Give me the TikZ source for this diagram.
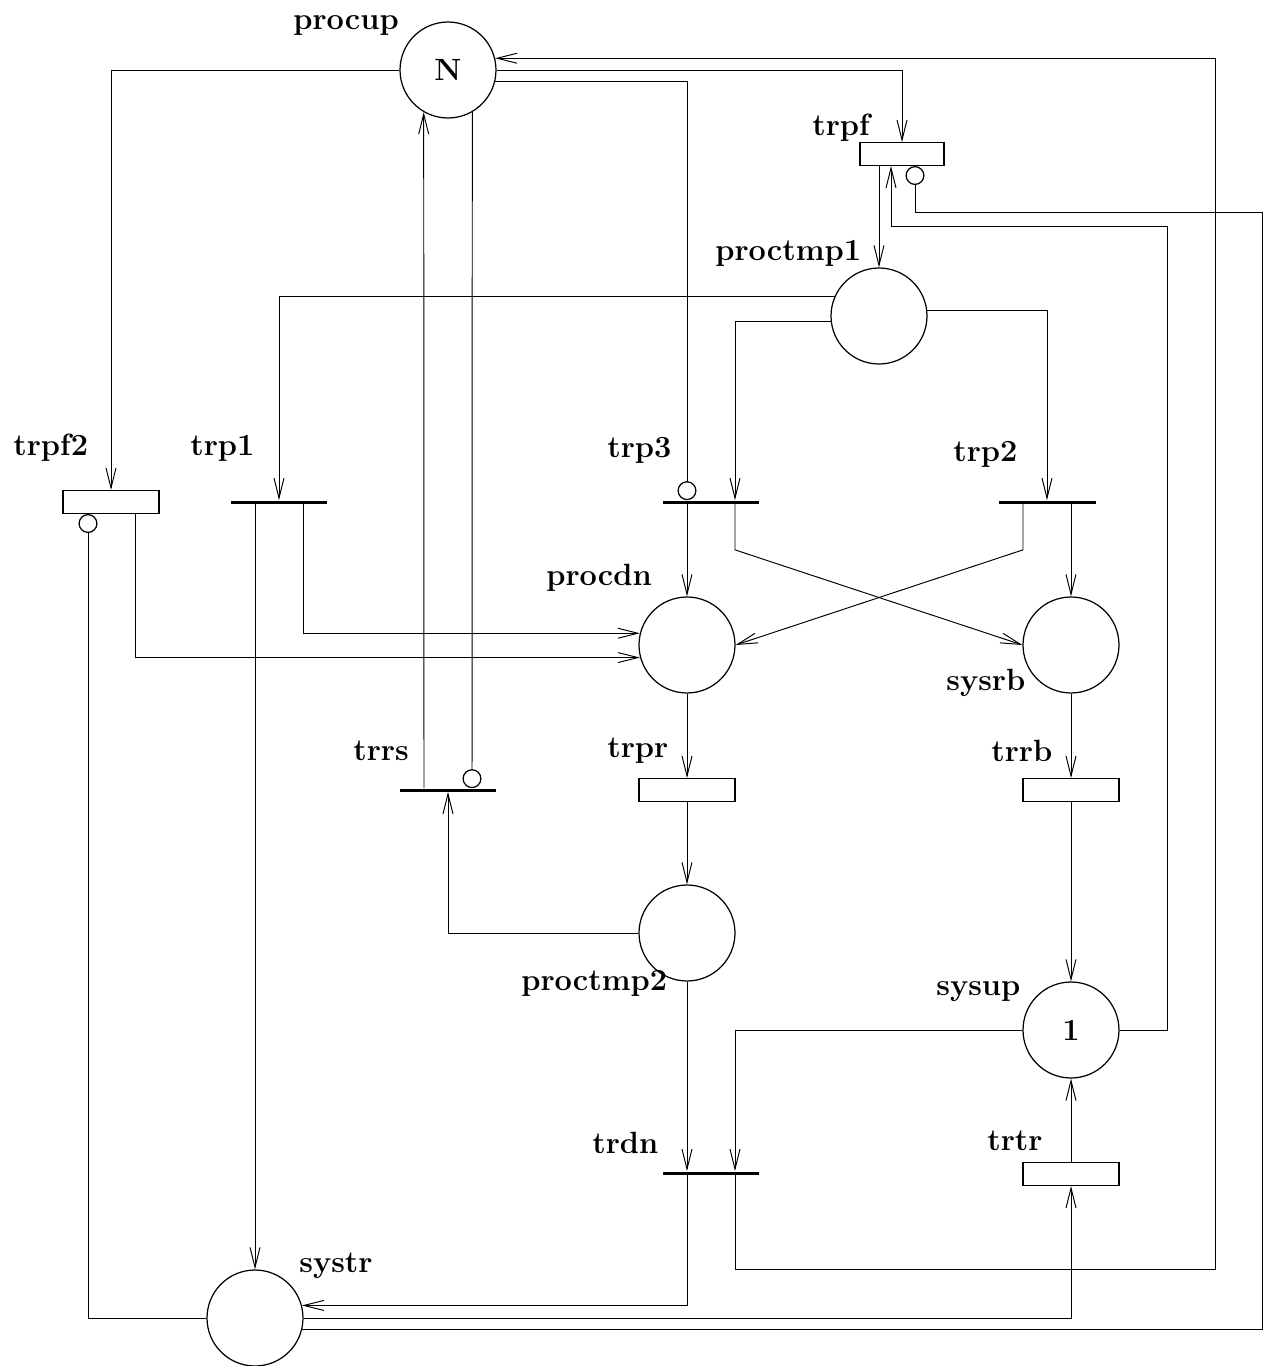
\documentclass[tikz,border=0pt]{standalone}
\usepackage{tikz}
\usetikzlibrary{
  arrows.meta,  % Straight Barb and Circle tips
  calc,         % offsets from node anchors
  positioning
}

\newcommand{\pnfont}{\fontsize{17.5}{20}\selectfont\bfseries}

\tikzset{
  place/.style={circle, draw, line width=0.7pt, minimum size=1.92cm, inner sep=0pt, font=\pnfont},
  trans/.style={rectangle, draw, line width=0.6pt, minimum width=1.92cm, minimum height=0.46cm, inner sep=0pt},
  bar/.style={rectangle, fill=black, minimum width=1.94cm, minimum height=0.06cm, inner sep=0pt},
  pnarc/.style={line width=0.55pt, -{Straight Barb[length=0.4cm, width=0.2cm]}},
  inhib/.style={line width=0.55pt, -{Circle[open, length=0.38cm, line width=0.7pt]}},
  lbl/.style={anchor=base west, inner sep=0pt, font=\pnfont}
}

\begin{document}
\begin{tikzpicture}[x=0.02cm, y=-0.02cm]
  \useasboundingbox (0,0) rectangle (1264,1366);

  % places
  \node[place] (procup)   at (448,70)    {N};
  \node[place] (proctmp1) at (879,316)   {};
  \node[place] (procdn)   at (687,645)   {};
  \node[place] (sysrb)    at (1071,645)  {};
  \node[place] (proctmp2) at (687,933)   {};
  \node[place] (sysup)    at (1071,1030) {1};
  \node[place] (systr)    at (255,1318)  {};

  % timed transitions
  \node[trans, minimum width=1.68cm] (trpf) at (902,154) {};
  \node[trans] (trpf2) at (111,502)  {};
  \node[trans] (trpr)  at (687,790)  {};
  \node[trans] (trrb)  at (1071,790) {};
  \node[trans] (trtr)  at (1071,1174) {};

  % immediate transitions
  \node[bar] (trp1) at (279,502)  {};
  \node[bar] (trp3) at (711,502)  {};
  \node[bar] (trp2) at (1047,502) {};
  \node[bar] (trrs) at (448,790)  {};
  \node[bar] (trdn) at (711,1173) {};

  % names
  \node[lbl] (l-procup)   at (293,29)   {procup};
  \node[lbl] (l-trpf)     at (812,135)  {trpf};
  \node[lbl] (l-proctmp1) at (715,260)  {proctmp1};
  \node[lbl] (l-trpf2)    at (13,455)   {trpf2};
  \node[lbl] (l-trp1)     at (190,455)  {trp1};
  \node[lbl] (l-trp3)     at (607,457)  {trp3};
  \node[lbl] (l-trp2)     at (953,461)  {trp2};
  \node[lbl] (l-procdn)   at (546,585)  {procdn};
  \node[lbl] (l-sysrb)    at (946,690)  {sysrb};
  \node[lbl] (l-trrs)     at (353,760)  {trrs};
  \node[lbl] (l-trpr)     at (607,757)  {trpr};
  \node[lbl] (l-trrb)     at (991,761)  {trrb};
  \node[lbl] (l-proctmp2) at (521,990)  {proctmp2};
  \node[lbl] (l-sysup)    at (936,995)  {sysup};
  \node[lbl] (l-trdn)     at (592,1153) {trdn};
  \node[lbl] (l-trtr)     at (987,1150) {trtr};
  \node[lbl] (l-systr)    at (299,1272) {systr};

  % arcs out of procup
  \draw[pnarc] (procup.east) -| (trpf.north);
  \draw[pnarc] (procup.west) -| (trpf2.north);
  \draw[inhib] (procup.-14.48) -| ($(trp3.north)+(-24,0)$);
  \draw[inhib] (procup.-60) -- ($(trrs.north)+(24,0)$);
  \draw[pnarc] ($(trrs.north)+(-24,0)$) -- (procup.-120);

  % proctmp1
  \draw[pnarc] (trpf.south -| proctmp1.north) -- (proctmp1.north);
  \draw[pnarc] (proctmp1.156.7) -| (trp1.north);
  \draw[pnarc] (proctmp1.187.2) -| ($(trp3.north)+(24,0)$);
  \draw[pnarc] (proctmp1.7.2) -| (trp2.north);

  % into trpf from below
  \draw[pnarc] (sysup.east) -| (1167,226) -| ($(trpf.south)+(-11,0)$);
  \draw[inhib] (systr.-14.48) -| (1262,212) -| ($(trpf.south)+(13,0)$);

  % trpf2
  \draw[inhib] (systr.west) -| ($(trpf2.south)+(-23,0)$);
  \draw[pnarc] ($(trpf2.south)+(24,0)$) |- (procdn.195.7);

  % trp1, trp3, trp2
  \draw[pnarc] ($(trp1.south)+(24,0)$) |- (procdn.166.8);
  \draw[pnarc] ($(trp1.south)+(-24,0)$) -- (systr.north);
  \draw[pnarc] ($(trp3.south)+(-24,0)$) -- (procdn.north);
  \draw[pnarc] ($(trp3.south)+(24,0)$) -- ++(0,46) -- (sysrb.west);
  \draw[pnarc] ($(trp2.south)+(-24,0)$) -- ++(0,46) -- (procdn.east);
  \draw[pnarc] ($(trp2.south)+(24,0)$) -- (sysrb.north);

  % middle column
  \draw[pnarc] (procdn.south) -- (trpr.north);
  \draw[pnarc] (trpr.south) -- (proctmp2.north);
  \draw[pnarc] (sysrb.south) -- (trrb.north);
  \draw[pnarc] (trrb.south) -- (sysup.north);
  \draw[pnarc] (proctmp2.west) -| (trrs.south);
  \draw[pnarc] (proctmp2.south) -- ($(trdn.north)+(-24,0)$);
  \draw[pnarc] (sysup.west) -| ($(trdn.north)+(24,0)$);

  % trdn and systr
  \draw[pnarc] ($(trdn.south)+(-24,0)$) |- (systr.15.7);
  \draw[pnarc] ($(trdn.south)+(24,0)$) |- (1215,1269) |- (procup.14.48);
  \draw[pnarc] (systr.east) -| (trtr.south);
  \draw[pnarc] (trtr.north) -- (sysup.south);
\end{tikzpicture}
\end{document}
